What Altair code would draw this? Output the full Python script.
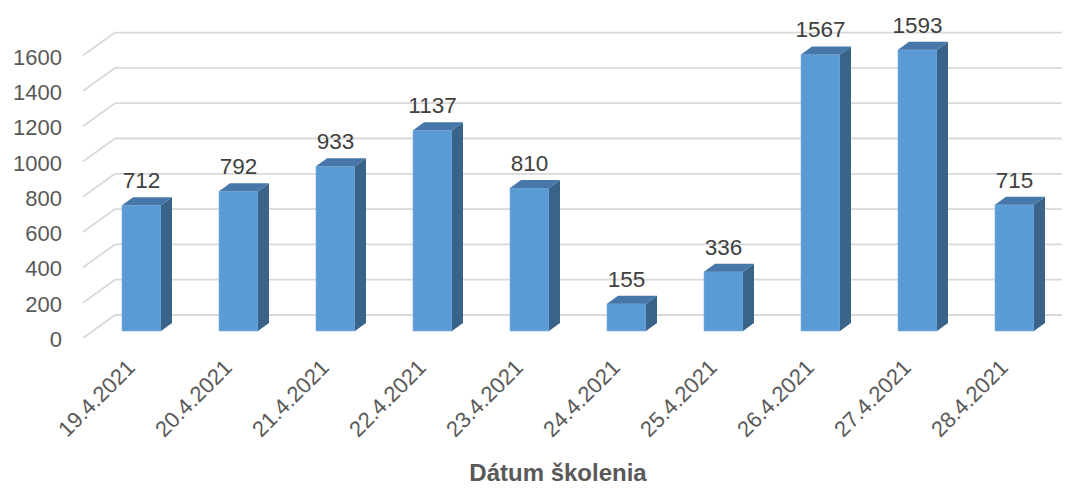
import altair as alt
import pandas as pd

dates = ["19.4.2021", "20.4.2021", "21.4.2021", "22.4.2021", "23.4.2021",
         "24.4.2021", "25.4.2021", "26.4.2021", "27.4.2021", "28.4.2021"]
values = [712, 792, 933, 1137, 810, 155, 336, 1567, 1593, 715]
y_ticks = [0, 200, 400, 600, 800, 1000, 1200, 1400, 1600]
x_title = "Dátum školenia"

# layout calibration (pixels)
W, H = 1054, 478
K = 0.1765          # px per data unit (y)
STEP = 97.0         # px per category
X0 = 133.5          # view x of first category centre
Y0 = 330.0          # view y of value 0 on the front plane

def ux(px):
    return px / STEP

def uy(px):
    return px / K

xdom = [-X0 / STEP, (W - X0) / STEP]
ydom = [-(H - Y0) / K, Y0 / K]
xs = alt.Scale(domain=xdom, nice=False, zero=False)
ys = alt.Scale(domain=ydom, nice=False, zero=False)

FRONT_X = (75 - X0) / STEP
WALL_X = (107 - X0) / STEP
WALL_R = (W - X0) / STEP
LABEL_X = (54 - X0) / STEP
WALL_DY = uy(23)
BASE = uy(7)
HW = ux(19.5)
DX = ux(11)
DY = uy(8)

grid = pd.DataFrame({"v": y_ticks})
grid["y"] = grid["v"] + WALL_DY
grid["x"] = WALL_X
grid["x2"] = WALL_R
grid["xf"] = FRONT_X
grid["yl"] = grid["v"] - uy(2)
grid["xl"] = LABEL_X
grid["lab"] = grid["v"].astype(str)

rows = []
for i, (d, v) in enumerate(zip(dates, values)):
    rows.append({"i": i, "d": d, "v": v})
bars = pd.DataFrame(rows)
bars["x"] = bars["i"] - HW
bars["x2"] = bars["i"] + HW
bars["y"] = BASE + bars["v"]
bars["y2"] = BASE
bars["ly"] = BASE + bars["v"] + DY + uy(9)
bars["lx"] = bars["i"].astype(float)
bars["dx"] = bars["i"] - ux(10)
bars["dy"] = -uy(26)
bars["lab"] = bars["v"].astype(str)

side_rows, top_rows = [], []
for i, v in enumerate(values):
    side_rows.append({"i": i, "x": i + HW, "yt": BASE + v, "yb": BASE})
    side_rows.append({"i": i, "x": i + HW + DX, "yt": BASE + v + DY, "yb": BASE + DY})
    top_rows.append({"i": i, "y": BASE + v, "x": i - HW, "x2": i + HW})
    top_rows.append({"i": i, "y": BASE + v + DY, "x": i - HW + DX, "x2": i + HW + DX})
side = pd.DataFrame(side_rows)
top = pd.DataFrame(top_rows)

GRID_C = "#D9D9D9"

grid_lines = alt.Chart(grid).mark_rule(color=GRID_C, strokeWidth=1.8).encode(
    x=alt.X("x:Q", scale=xs, axis=None), x2="x2:Q",
    y=alt.Y("y:Q", scale=ys, axis=None))

diag = alt.Chart(grid).mark_rule(color=GRID_C, strokeWidth=1.8).encode(
    x=alt.X("xf:Q", scale=xs, axis=None), x2="x:Q",
    y=alt.Y("v:Q", scale=ys, axis=None), y2="y:Q")

tick_labels = alt.Chart(grid).mark_text(
    align="right", baseline="middle", font="Liberation Sans", fontSize=22,
    color="#595959").encode(
    x=alt.X("xl:Q", scale=xs, axis=None),
    y=alt.Y("yl:Q", scale=ys, axis=None), text="lab:N")

front = alt.Chart(bars).mark_rect(color="#5B9BD5", stroke="#7EB0E0", strokeWidth=0.6).encode(
    x=alt.X("x:Q", scale=xs, axis=None), x2="x2:Q",
    y=alt.Y("y:Q", scale=ys, axis=None), y2="y2:Q")

side_face = alt.Chart(side).mark_area(orient="vertical", color="#3A6389").encode(
    x=alt.X("x:Q", scale=xs, axis=None),
    y=alt.Y("yt:Q", scale=ys, axis=None), y2="yb:Q",
    detail="i:N")

top_face = alt.Chart(top).mark_area(orient="horizontal", color="#4677A8").encode(
    y=alt.Y("y:Q", scale=ys, axis=None),
    x=alt.X("x:Q", scale=xs, axis=None), x2="x2:Q",
    detail="i:N")

value_labels = alt.Chart(bars).mark_text(
    align="center", baseline="alphabetic", font="Liberation Sans", fontSize=22.5,
    color="#404040").encode(
    x=alt.X("lx:Q", scale=xs, axis=None),
    y=alt.Y("ly:Q", scale=ys, axis=None), text="lab:N")

date_labels = alt.Chart(bars).mark_text(
    align="right", baseline="middle", angle=315, font="Liberation Sans", fontSize=22,
    color="#595959").encode(
    x=alt.X("dx:Q", scale=xs, axis=None),
    y=alt.Y("dy:Q", scale=ys, axis=None), text="d:N")

title_df = pd.DataFrame({"t": [x_title], "x": [(558 - 8 - X0) / STEP], "y": [-(481 - 8 - Y0) / K]})
title = alt.Chart(title_df).mark_text(
    align="center", baseline="alphabetic", font="Liberation Sans", fontSize=24,
    fontWeight="bold", color="#595959").encode(
    x=alt.X("x:Q", scale=xs, axis=None),
    y=alt.Y("y:Q", scale=ys, axis=None), text="t:N")

chart = alt.layer(grid_lines, diag, tick_labels, front, side_face, top_face,
                  value_labels, date_labels, title).properties(
    width=W, height=H, autosize=alt.AutoSizeParams(type="none"), padding=0
).configure_view(stroke=None)

chart.save("out.html", embed_options={"renderer": "svg", "actions": False})
